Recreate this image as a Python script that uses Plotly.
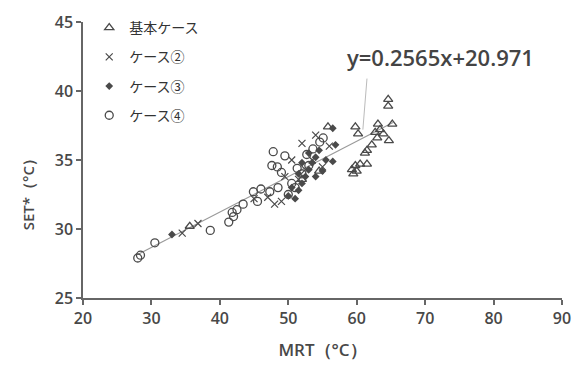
import plotly.graph_objects as go

# Data (MRT °C, SET* °C)
base_x = [35.6, 55.8, 59.8, 60.2, 64.6, 64.6, 63.1, 63.4, 62.7, 63.9, 65.2, 64.7, 62.2, 61.5, 61.2, 59.3, 59.8, 60.5, 61.5, 59.5, 60.0, 63.0, 52.0, 54.5]
base_y = [30.2, 37.4, 37.4, 36.9, 39.4, 38.9, 37.6, 37.2, 37.0, 36.9, 37.6, 36.4, 36.1, 35.7, 35.5, 34.3, 34.6, 34.7, 34.7, 34.0, 34.2, 36.6, 33.6, 34.2]

c2_x = [34.5, 36.8, 45.0, 48.0, 49.5, 50.5, 51.5, 52.5, 53.5, 54.0, 55.0, 49.0, 47.0, 56.0, 52.0]
c2_y = [29.7, 30.4, 32.2, 31.8, 33.8, 35.0, 33.6, 34.3, 35.0, 36.8, 34.5, 32.0, 32.3, 36.0, 36.2]

c3_x = [33.0, 50.0, 50.5, 51.0, 51.5, 52.0, 52.5, 53.0, 53.5, 54.0, 54.5, 55.0, 55.5, 52.0, 53.0, 56.5, 56.9, 56.5, 51.5, 54.0]
c3_y = [29.6, 32.4, 33.0, 32.2, 32.8, 33.3, 33.8, 34.3, 34.8, 35.2, 35.7, 34.2, 35.0, 34.8, 35.5, 37.3, 36.1, 34.9, 34.0, 33.8]

c4_x = [28.0, 28.4, 30.5, 38.6, 41.3, 41.8, 42.5, 43.4, 44.9, 46.0, 47.3, 47.6, 47.8, 48.4, 49.0, 49.5, 50.5, 51.3, 52.0, 52.7, 53.6, 54.6, 55.1, 50.0, 51.0, 53.0, 45.5, 48.5, 42.0]
c4_y = [27.9, 28.1, 29.0, 29.9, 30.5, 31.2, 31.4, 31.8, 32.7, 32.9, 32.7, 34.6, 35.6, 34.5, 34.1, 35.3, 33.3, 34.4, 34.0, 35.4, 35.8, 36.3, 36.6, 32.5, 33.0, 34.6, 32.0, 33.0, 30.9]

trend_slope = 0.2565
trend_icept = 20.971
trend_x = [28.0, 65.3]
trend_y = [trend_slope * v + trend_icept for v in trend_x]

names = ["基本ケース", "ケース②", "ケース③", "ケース④"]
xticks = [20, 30, 40, 50, 60, 70, 80, 90]
yticks = [25, 30, 35, 40, 45]

dark = "#4a4a4a"
txt = "#484848"
fig = go.Figure()

fig.add_trace(go.Scatter(x=trend_x, y=trend_y, mode="lines",
                         line=dict(color="#9a9a9a", width=1.2), showlegend=False, hoverinfo="skip"))

fig.add_trace(go.Scatter(x=base_x, y=base_y, mode="markers", name=names[0], legendgroup="a",
                         marker=dict(symbol="triangle-up-open", size=8, color=dark, line=dict(width=1.3, color=dark))))
fig.add_trace(go.Scatter(x=c2_x, y=c2_y, mode="markers", name=names[1], legendgroup="b",
                         marker=dict(symbol="x-thin-open", size=7, color=dark, line=dict(width=1.2, color=dark))))
fig.add_trace(go.Scatter(x=c3_x, y=c3_y, mode="markers", name=names[2], legendgroup="c",
                         marker=dict(symbol="diamond", size=6, color=dark, line=dict(width=0))))
fig.add_trace(go.Scatter(x=c4_x, y=c4_y, mode="markers", name=names[3], legendgroup="d",
                         marker=dict(symbol="circle-open", size=8, color=dark, line=dict(width=1.3, color=dark))))

# equation label with leader line
fig.add_annotation(x=72.3, y=42.5, xref="x", yref="y", text="y=0.2565x+20.971", showarrow=False,
                   font=dict(family="Open Sans", size=22, color="#444444", weight=600))
fig.add_shape(type="line", x0=61.5, y0=40.9, x1=60.9, y1=37.2, xref="x", yref="y",
              line=dict(color="#bbbbbb", width=1))

# y axis title
fig.add_annotation(xref="paper", yref="paper", x=-0.115, y=0.39, text="SET*（°C）", textangle=-90,
                   showarrow=False, font=dict(family="Open Sans", size=15, color=txt, weight=600),
                   xanchor="center", yanchor="middle")

axis_common = dict(showgrid=False, zeroline=False, showline=True, linecolor="#666666", linewidth=1.5,
                   ticks="outside", ticklen=5, tickcolor="#666666", tickwidth=1.5, automargin=False,
                   tickfont=dict(family="Open Sans", size=16, color=txt, weight=600))

fig.update_layout(
    width=582, height=367,
    margin=dict(l=83, r=20, t=18, b=69),
    paper_bgcolor="white", plot_bgcolor="white",
    xaxis=dict(range=[20, 90], tickvals=xticks, ticktext=[str(v) for v in xticks],
               title=dict(text="MRT（°C）", font=dict(family="Open Sans", size=17, color=txt, weight=600), standoff=16),
               **axis_common),
    yaxis=dict(range=[25, 45], tickvals=yticks, ticktext=[str(v) for v in yticks], **axis_common),
    legend=dict(x=0.013, y=1.036, xanchor="left", yanchor="top", bgcolor="rgba(0,0,0,0)",
                font=dict(family="Noto Sans CJK JP", size=14, color="#333333"),
                tracegroupgap=8, itemwidth=30),
    showlegend=True,
)

fig.write_html("out.html")
